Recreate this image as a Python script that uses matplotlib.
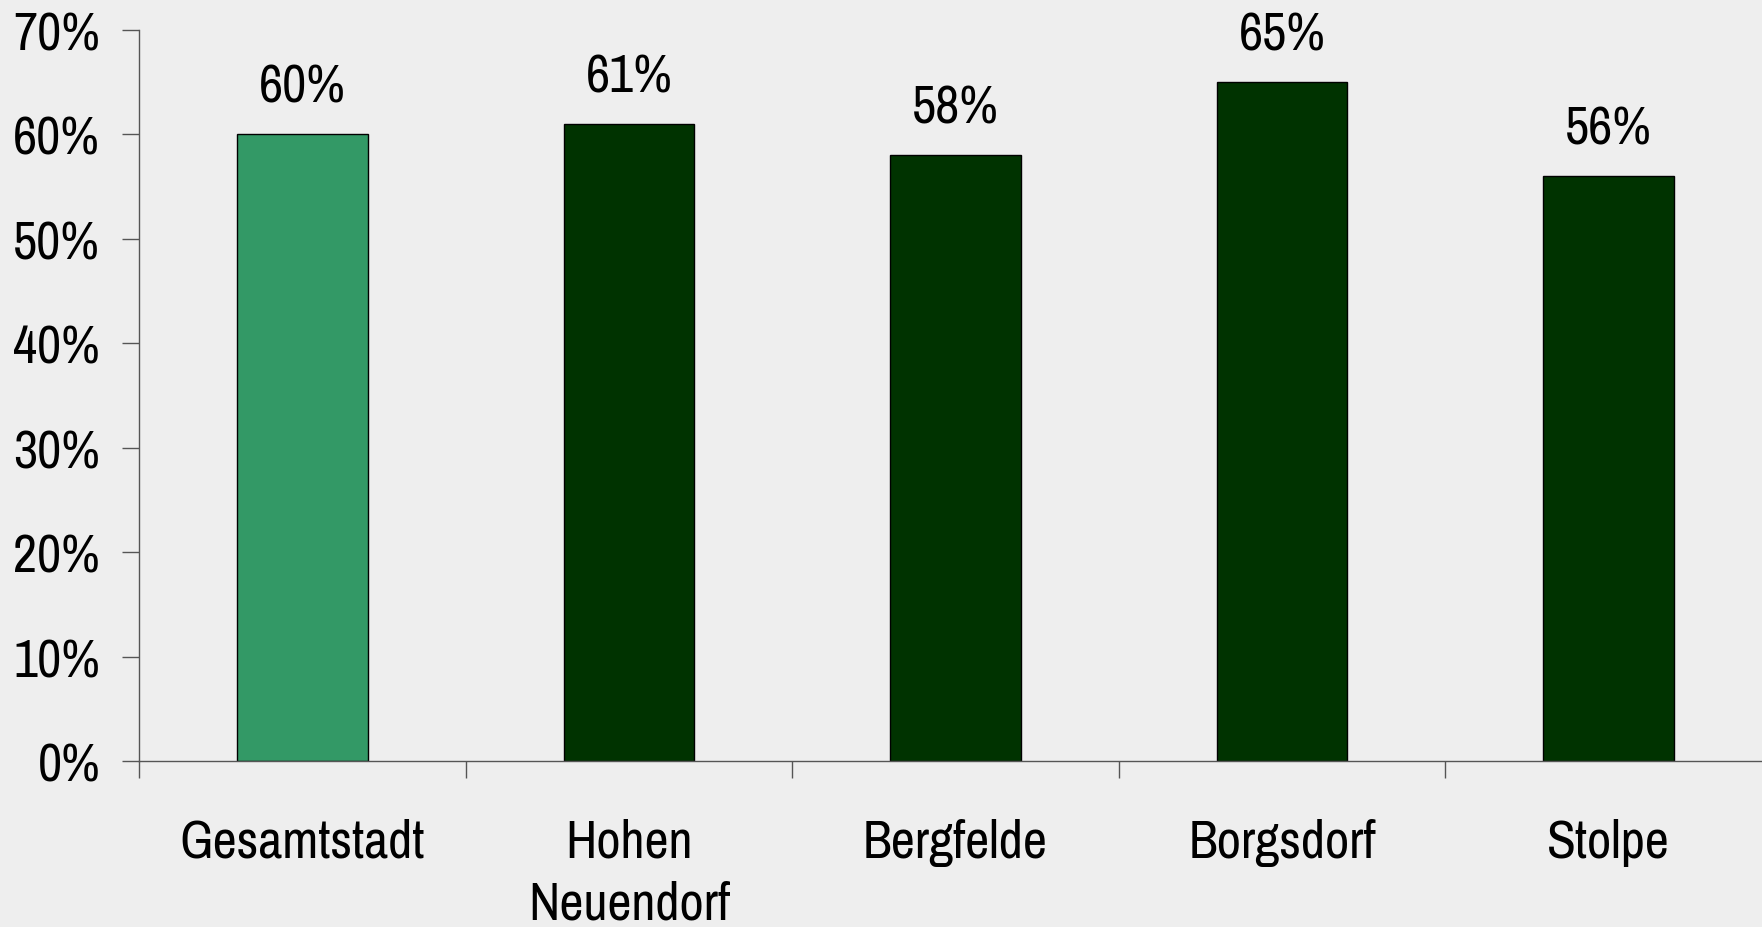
import matplotlib.pyplot as plt

plt.rcParams['font.family'] = ['Archivo Narrow', 'Pragati Narrow', 'DejaVu Sans']

categories = ["Gesamtstadt", "Hohen\nNeuendorf", "Bergfelde", "Borgsdorf", "Stolpe"]
values = [60, 61, 58, 65, 56]
colors = ["#339966", "#003300", "#003300", "#003300", "#003300"]
yticks = [0, 10, 20, 30, 40, 50, 60, 70]

W, H = 1762, 928
fig = plt.figure(figsize=(W / 100, H / 100), dpi=100, facecolor="#eeeeee")
left, right = 139, 1772
top, bottom = 31, 762
ax = fig.add_axes([left / W, 1 - bottom / H, (right - left) / W, (bottom - top) / H])
ax.set_facecolor("#eeeeee")

fs = 38
x = range(len(categories))
ax.bar(x, values, width=0.4, color=colors, edgecolor="black", linewidth=1)
for xi, v in zip(x, values):
    ax.annotate(f"{v}%", (xi, v), xytext=(0, 17), textcoords="offset points",
                ha="center", va="bottom", fontsize=fs)

ax.set_xlim(-0.5, len(categories) - 0.5)
ax.set_ylim(0, 70)
ax.set_yticks(yticks)
ax.set_yticklabels([f"{t}%" for t in yticks], fontsize=fs)
# category separators as major ticks, names on minor ticks
ax.set_xticks([i - 0.5 for i in x])
ax.set_xticklabels([])
ax.set_xticks(list(x), minor=True)
ax.set_xticklabels(categories, minor=True, fontsize=fs, linespacing=1.35)
ax.tick_params(axis="x", which="minor", length=0, pad=41)
ax.tick_params(axis="x", which="major", length=12, width=1, color="#555555", direction="out")
ax.tick_params(axis="y", length=12, width=1, color="#555555", pad=16)

for s in ["top", "right"]:
    ax.spines[s].set_visible(False)
for s in ["left", "bottom"]:
    ax.spines[s].set_color("#555555")
    ax.spines[s].set_linewidth(1)

fig.savefig("out.png", dpi=100, facecolor=fig.get_facecolor())
